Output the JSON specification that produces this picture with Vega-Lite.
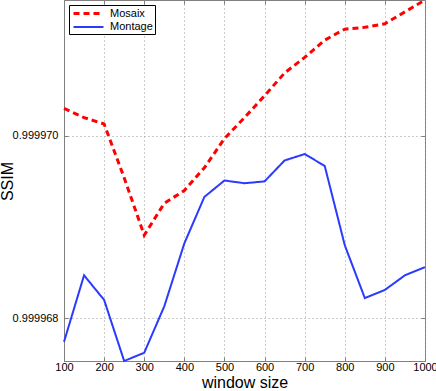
{
  "$schema": "https://vega.github.io/schema/vega-lite/v6.json",
  "width": 361,
  "height": 361,
  "autosize": {"type": "none"},
  "padding": {"left": 64, "top": 0, "right": 11, "bottom": 30},
  "config": {
    "font": "Liberation Sans",
    "view": {"stroke": "#808080", "strokeWidth": 1},
    "axis": {"labelFont": "Liberation Sans", "titleFont": "Liberation Sans", "labelColor": "#000", "titleColor": "#000", "titleFontWeight": "normal"}
  },
  "data": {"values": [
    {"w": 100, "series": "Mosaix", "ssim": 0.9999703},
    {"w": 150, "series": "Mosaix", "ssim": 0.9999702},
    {"w": 200, "series": "Mosaix", "ssim": 0.99997013},
    {"w": 250, "series": "Mosaix", "ssim": 0.99996954},
    {"w": 300, "series": "Mosaix", "ssim": 0.99996891},
    {"w": 350, "series": "Mosaix", "ssim": 0.99996926},
    {"w": 400, "series": "Mosaix", "ssim": 0.9999694},
    {"w": 450, "series": "Mosaix", "ssim": 0.99996965},
    {"w": 500, "series": "Mosaix", "ssim": 0.99996997},
    {"w": 550, "series": "Mosaix", "ssim": 0.9999702},
    {"w": 600, "series": "Mosaix", "ssim": 0.99997044},
    {"w": 650, "series": "Mosaix", "ssim": 0.99997069},
    {"w": 700, "series": "Mosaix", "ssim": 0.99997086},
    {"w": 750, "series": "Mosaix", "ssim": 0.99997105},
    {"w": 800, "series": "Mosaix", "ssim": 0.99997117},
    {"w": 850, "series": "Mosaix", "ssim": 0.99997119},
    {"w": 900, "series": "Mosaix", "ssim": 0.99997123},
    {"w": 950, "series": "Mosaix", "ssim": 0.99997136},
    {"w": 1000, "series": "Mosaix", "ssim": 0.99997149},
    {"w": 100, "series": "Montage", "ssim": 0.99996774},
    {"w": 150, "series": "Montage", "ssim": 0.99996847},
    {"w": 200, "series": "Montage", "ssim": 0.9999682},
    {"w": 250, "series": "Montage", "ssim": 0.99996753},
    {"w": 300, "series": "Montage", "ssim": 0.99996762},
    {"w": 350, "series": "Montage", "ssim": 0.99996813},
    {"w": 400, "series": "Montage", "ssim": 0.99996882},
    {"w": 450, "series": "Montage", "ssim": 0.99996933},
    {"w": 500, "series": "Montage", "ssim": 0.99996951},
    {"w": 550, "series": "Montage", "ssim": 0.99996948},
    {"w": 600, "series": "Montage", "ssim": 0.9999695},
    {"w": 650, "series": "Montage", "ssim": 0.99996973},
    {"w": 700, "series": "Montage", "ssim": 0.9999698},
    {"w": 750, "series": "Montage", "ssim": 0.99996967},
    {"w": 800, "series": "Montage", "ssim": 0.9999688},
    {"w": 850, "series": "Montage", "ssim": 0.99996822},
    {"w": 900, "series": "Montage", "ssim": 0.99996831},
    {"w": 950, "series": "Montage", "ssim": 0.99996847},
    {"w": 1000, "series": "Montage", "ssim": 0.99996856}
  ]},
  "resolve": {"axis": {"x": "independent", "y": "independent"}},
  "layer": [
    {
      "mark": {"type": "line", "opacity": 0},
      "encoding": {
        "x": {"field": "w", "type": "quantitative", "scale": {"domain": [100, 1000], "nice": false},
          "axis": {"orient": "top", "values": [100,200,300,400,500,600,700,800,900,1000], "labels": false, "title": null, "grid": false, "domain": false, "tickSize": -4, "tickColor": "#808080"}},
        "y": {"field": "ssim", "type": "quantitative", "scale": {"domain": [0.99996753, 0.99997149], "nice": false, "zero": false},
          "axis": {"orient": "right", "values": [0.999968, 0.99997], "labels": false, "title": null, "grid": false, "domain": false, "tickSize": -4, "tickColor": "#808080"}},
        "detail": {"field": "series"}
      }
    },
    {
      "mark": {"type": "line"},
      "encoding": {
        "x": {"field": "w", "type": "quantitative", "scale": {"domain": [100, 1000], "nice": false},
          "axis": {"values": [100,200,300,400,500,600,700,800,900,1000], "format": "d", "title": "window size", "titleFontSize": 16, "titlePadding": 2, "labelFontSize": 11, "labelPadding": 4, "tickSize": -4, "tickColor": "#808080", "domainColor": "#808080", "grid": true, "gridDash": [1, 3], "gridColor": "#999", "labelFlush": false}},
        "y": {"field": "ssim", "type": "quantitative", "scale": {"domain": [0.99996753, 0.99997149], "nice": false, "zero": false},
          "axis": {"values": [0.999968, 0.99997], "format": ".6f", "title": "SSIM", "titleFontSize": 16, "titleX": -49, "titleY": 181, "titleBaseline": "bottom", "titleAngle": 270, "labelFontSize": 11, "labelPadding": 10, "tickSize": -4, "tickColor": "#808080", "domainColor": "#808080", "grid": true, "gridDash": [1, 3], "gridColor": "#999"}},
        "color": {"field": "series", "type": "nominal", "scale": {"domain": ["Mosaix", "Montage"], "range": ["#ff0000", "#2a3aff"]},
          "legend": {"orient": "none", "legendX": 5, "legendY": 5, "title": null, "fillColor": "white", "strokeColor": "#000", "padding": 2, "symbolType": "M-3,0H3", "symbolSize": 100, "symbolOffset": 11, "labelFontSize": 11, "rowPadding": 1, "labelOffset": 15, "labelExpr": "datum.label + '                   '"}},
        "strokeDash": {"field": "series", "type": "nominal", "scale": {"domain": ["Mosaix", "Montage"], "range": [[6, 4], [1, 0]]},
          "legend": {"orient": "none", "legendX": 5, "legendY": 5, "title": null, "fillColor": "white", "strokeColor": "#000", "padding": 2, "symbolType": "M-3,0H3", "symbolSize": 100, "symbolOffset": 11, "labelFontSize": 11, "rowPadding": 1, "labelOffset": 15, "labelExpr": "datum.label + '                   '"}},
        "strokeWidth": {"field": "series", "type": "nominal", "scale": {"domain": ["Mosaix", "Montage"], "range": [3, 2]}, "legend": null}
      }
    }
  ]
}
